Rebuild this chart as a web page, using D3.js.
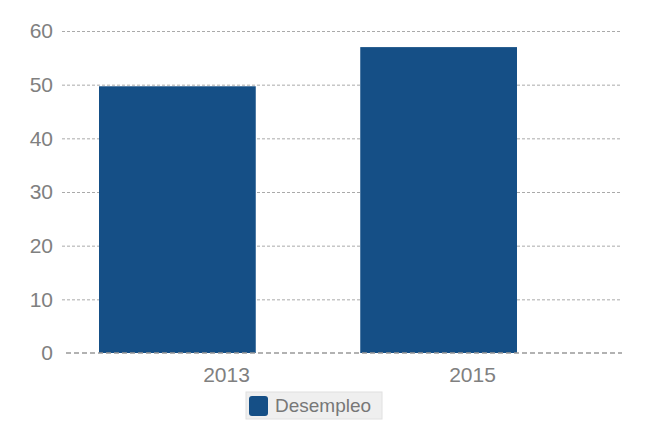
<!DOCTYPE html>
<html>
<head>
<meta charset="utf-8">
<script src="https://cdn.jsdelivr.net/npm/d3@7"></script>
<style>
  body { margin: 0; background: #fff; }
  svg { display: block; font-family: "Liberation Sans", Arial, sans-serif; }
</style>
</head>
<body>
<svg id="chart" width="671" height="429"></svg>
<script>
const years = ['2013', '2015']
const desempleo = [49.7, 57.0]
const yTicks = [0, 10, 20, 30, 40, 50, 60]
const seriesName = 'Desempleo'

const svg = d3.select('#chart')
const barColor = '#154f86'
const textColor = '#808080'

const y = d3.scaleLinear().domain([0, 60]).range([353, 31])

// bars and labels sit on slightly different positions in the original
const xBar = d3.scaleBand().domain(years).range([99, 517])
    .paddingInner(0.4).paddingOuter(0)
const xLabel = d3.scalePoint().domain(years).range([226, 472])

// gridlines + y labels
const gy = svg.append('g')
    .attr('transform', 'translate(62,0)')
    .call(d3.axisLeft(y).tickValues(yTicks).tickSize(-560).tickPadding(9))
gy.select('.domain').remove()
gy.selectAll('.tick line')
    .attr('stroke', '#aaa')
    .attr('stroke-dasharray', '3,2')
    .attr('opacity', d => d === 0 ? 0 : 1)
gy.selectAll('.tick text')
    .attr('fill', textColor)
    .attr('font-size', 21)
    .attr('font-family', '"Liberation Sans", Arial, sans-serif')

// bars
svg.append('g').selectAll('rect')
    .data(desempleo)
    .enter()
    .append('rect')
    .attr('x', (d, i) => xBar(years[i]))
    .attr('y', d => y(d))
    .attr('width', xBar.bandwidth())
    .attr('height', d => y(0) - y(d))
    .attr('fill', barColor)

// zero line on top of the bars
svg.append('line')
    .attr('x1', 66)
    .attr('x2', 622)
    .attr('y1', y(0))
    .attr('y2', y(0))
    .attr('stroke', '#999')
    .attr('stroke-width', 1.6)
    .attr('stroke-dasharray', '5,3')

// x labels
const gx = svg.append('g')
    .attr('transform', `translate(0,${y(0)})`)
    .call(d3.axisBottom(xLabel).tickSize(0).tickPadding(14))
gx.select('.domain').remove()
gx.selectAll('.tick text')
    .attr('fill', textColor)
    .attr('font-size', 21)
    .attr('font-family', '"Liberation Sans", Arial, sans-serif')

// legend
const legend = svg.append('g').attr('transform', 'translate(246,392)')
legend.append('rect')
    .attr('width', 136)
    .attr('height', 27)
    .attr('fill', '#efefef')
    .attr('stroke', '#e0e0e0')
legend.append('rect')
    .attr('x', 3)
    .attr('y', 4)
    .attr('width', 19)
    .attr('height', 20)
    .attr('rx', 3)
    .attr('fill', barColor)
legend.append('text')
    .attr('x', 29)
    .attr('y', 20)
    .attr('font-size', 19)
    .attr('fill', '#777')
    .text(seriesName)
</script>
</body>
</html>
